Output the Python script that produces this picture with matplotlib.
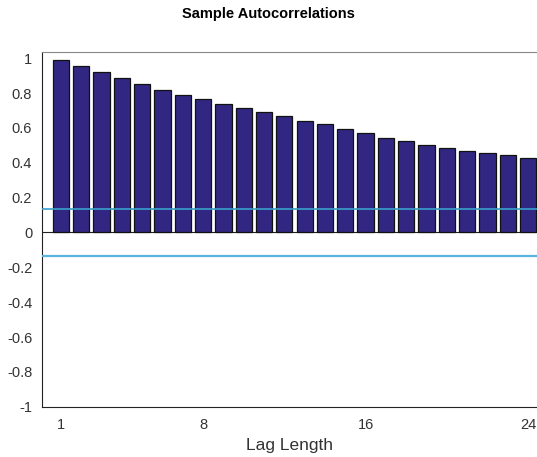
import numpy as np
import matplotlib.pyplot as plt

plt.rcParams['font.family'] = ['Liberation Sans', 'DejaVu Sans']

# autocorrelation values
lags = np.arange(1, 25)
acf = [0.990, 0.957, 0.922, 0.889, 0.850, 0.816, 0.790, 0.763, 0.736, 0.716,
       0.689, 0.668, 0.641, 0.621, 0.594, 0.569, 0.542, 0.522, 0.501, 0.482,
       0.468, 0.454, 0.447, 0.425]
conf_bound = 0.134
xticks = [1, 8, 16, 24]
yticks = [-1, -0.8, -0.6, -0.4, -0.2, 0, 0.2, 0.4, 0.6, 0.8, 1]
ytick_labels = ['-1', '-0.8', '-0.6', '-0.4', '-0.2', '0', '0.2', '0.4', '0.6', '0.8', '1']

fig = plt.figure(figsize=(5.37, 4.57), dpi=100)
ax = fig.add_axes([0.078, 0.11, 0.922, 0.776])

ax.bar(lags, acf, width=0.8, color='#312783', edgecolor='#111111', linewidth=0.9, zorder=2)
ax.axhline(conf_bound, color='#3aa0cc', linewidth=1.2, zorder=3)
ax.axhline(-conf_bound, color='#5ab4e0', linewidth=1.6, zorder=3)
ax.axhline(0, color='#222222', linewidth=0.8, zorder=1)

ax.set_xlim(0.064, 24.44)
ax.set_ylim(-1, 1.035)
ax.set_xticks(xticks)
ax.set_yticks(yticks)
ax.set_yticklabels(ytick_labels)
ax.tick_params(axis='both', labelsize=10.5, colors='#333333', length=0)
ax.tick_params(axis='y', pad=7)
ax.tick_params(axis='x', pad=8)

ax.spines['right'].set_visible(False)
ax.spines['top'].set_color('#888888')
ax.spines['left'].set_color('#222222')
ax.spines['bottom'].set_color('#222222')

ax.set_xlabel('Lag Length', fontsize=12.5, color='#333333', labelpad=4.5)
fig.suptitle('Sample Autocorrelations', fontsize=10.5, fontweight='bold', y=0.985)

fig.savefig('out.png', dpi=100)
